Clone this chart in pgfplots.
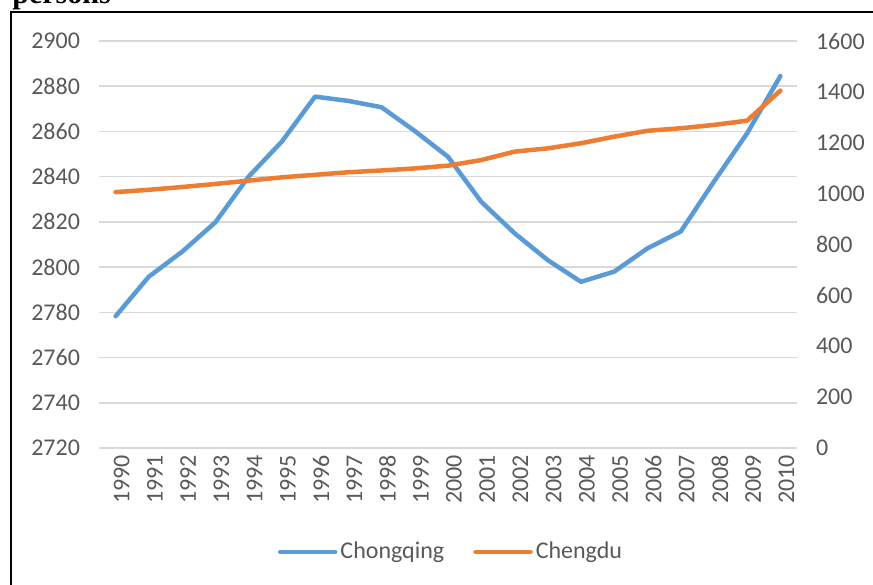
\documentclass[border=0pt]{standalone}
\usepackage{fontspec}
\setmainfont{Carlito}
\newfontfamily\serifbold{Liberation Serif}
\usepackage{pgfplots}
\pgfplotsset{compat=1.18}
\definecolor{cqblue}{HTML}{5B9BD5}
\definecolor{cdorange}{HTML}{ED7D31}
\definecolor{gridgray}{HTML}{D9D9D9}
\definecolor{txtgray}{HTML}{595959}

\pgfplotstableread{
year value
1990 2778.3
1991 2795.8
1992 2806.8
1993 2819.8
1994 2840.0
1995 2855.5
1996 2875.4
1997 2873.5
1998 2870.7
1999 2860.2
2000 2848.8
2001 2828.9
2002 2815.0
2003 2803.1
2004 2793.5
2005 2798.0
2006 2808.3
2007 2815.7
2008 2837.8
2009 2859.2
2010 2884.5
}\chongqing

\pgfplotstableread{
year value
1990 1006
1991 1015
1992 1026
1993 1038
1994 1051
1995 1064
1996 1074
1997 1084
1998 1091
1999 1099
2000 1110
2001 1132
2002 1165
2003 1178
2004 1198
2005 1224
2006 1247
2007 1257
2008 1270
2009 1287
2010 1405
}\chengdu

\pgfplotsset{
  mystyle/.style={
    scale only axis, width=349pt, height=203.5pt,
    at={(49.5pt,68pt)}, anchor=south west,
    xmin=1989.5, xmax=2010.5,
    axis line style={draw=none}, major tick length=0pt,
    tick label style={font=\fontsize{12}{14}\selectfont, text=txtgray},
    /pgf/number format/assume math mode=true,
    /pgf/number format/1000 sep={},
  },
  cqline/.style={cqblue, line width=2.25pt, line join=round, line cap=round},
  cdline/.style={cdorange, line width=2.25pt, line join=round, line cap=round},
}

\begin{document}
\begin{tikzpicture}
\clip (0,0) rectangle (436.5pt,292pt);
\fill[white] (0,0) rectangle (436.5pt,292pt);
\node[anchor=base west, inner sep=0pt, font=\serifbold\bfseries\fontsize{15}{18}\selectfont] at (6pt,290pt) {persons};
\draw[line width=1pt] (5.5pt,-5pt) -- (5.5pt,286pt) -- (445pt,286pt);

\begin{axis}[mystyle,
  ymin=2720, ymax=2900, ytick={2720,2740,...,2900},
  ymajorgrids, grid style={gridgray, line width=0.75pt},
  xtick={1990,1991,...,2010},
  xticklabel style={rotate=90, anchor=east, yshift=-3pt},
  axis y line*=left, axis x line*=bottom,
  yticklabel style={xshift=-6pt},
]
\addplot[cqline] table[x=year, y=value] {\chongqing};
\end{axis}

\begin{axis}[mystyle,
  ymin=0, ymax=1600, ytick={0,200,...,1600},
  axis y line*=right, axis x line=none,
  yticklabel style={xshift=6pt},
  legend columns=2,
  legend style={at={(0.505,-0.2555)}, anchor=center, draw=none, fill=none,
    font=\fontsize{12}{14}\selectfont, text=txtgray,
    /tikz/every even column/.append style={column sep=13pt},
    nodes={inner sep=1.5pt}},
  legend image code/.code={\draw[#1] (0pt,0pt) -- (27.5pt,0pt);},
]
\addlegendimage{cqline}
\addlegendentry{Chongqing}
\addplot[cdline] table[x=year, y=value] {\chengdu};
\addlegendentry{Chengdu}
\end{axis}
\end{tikzpicture}
\end{document}
